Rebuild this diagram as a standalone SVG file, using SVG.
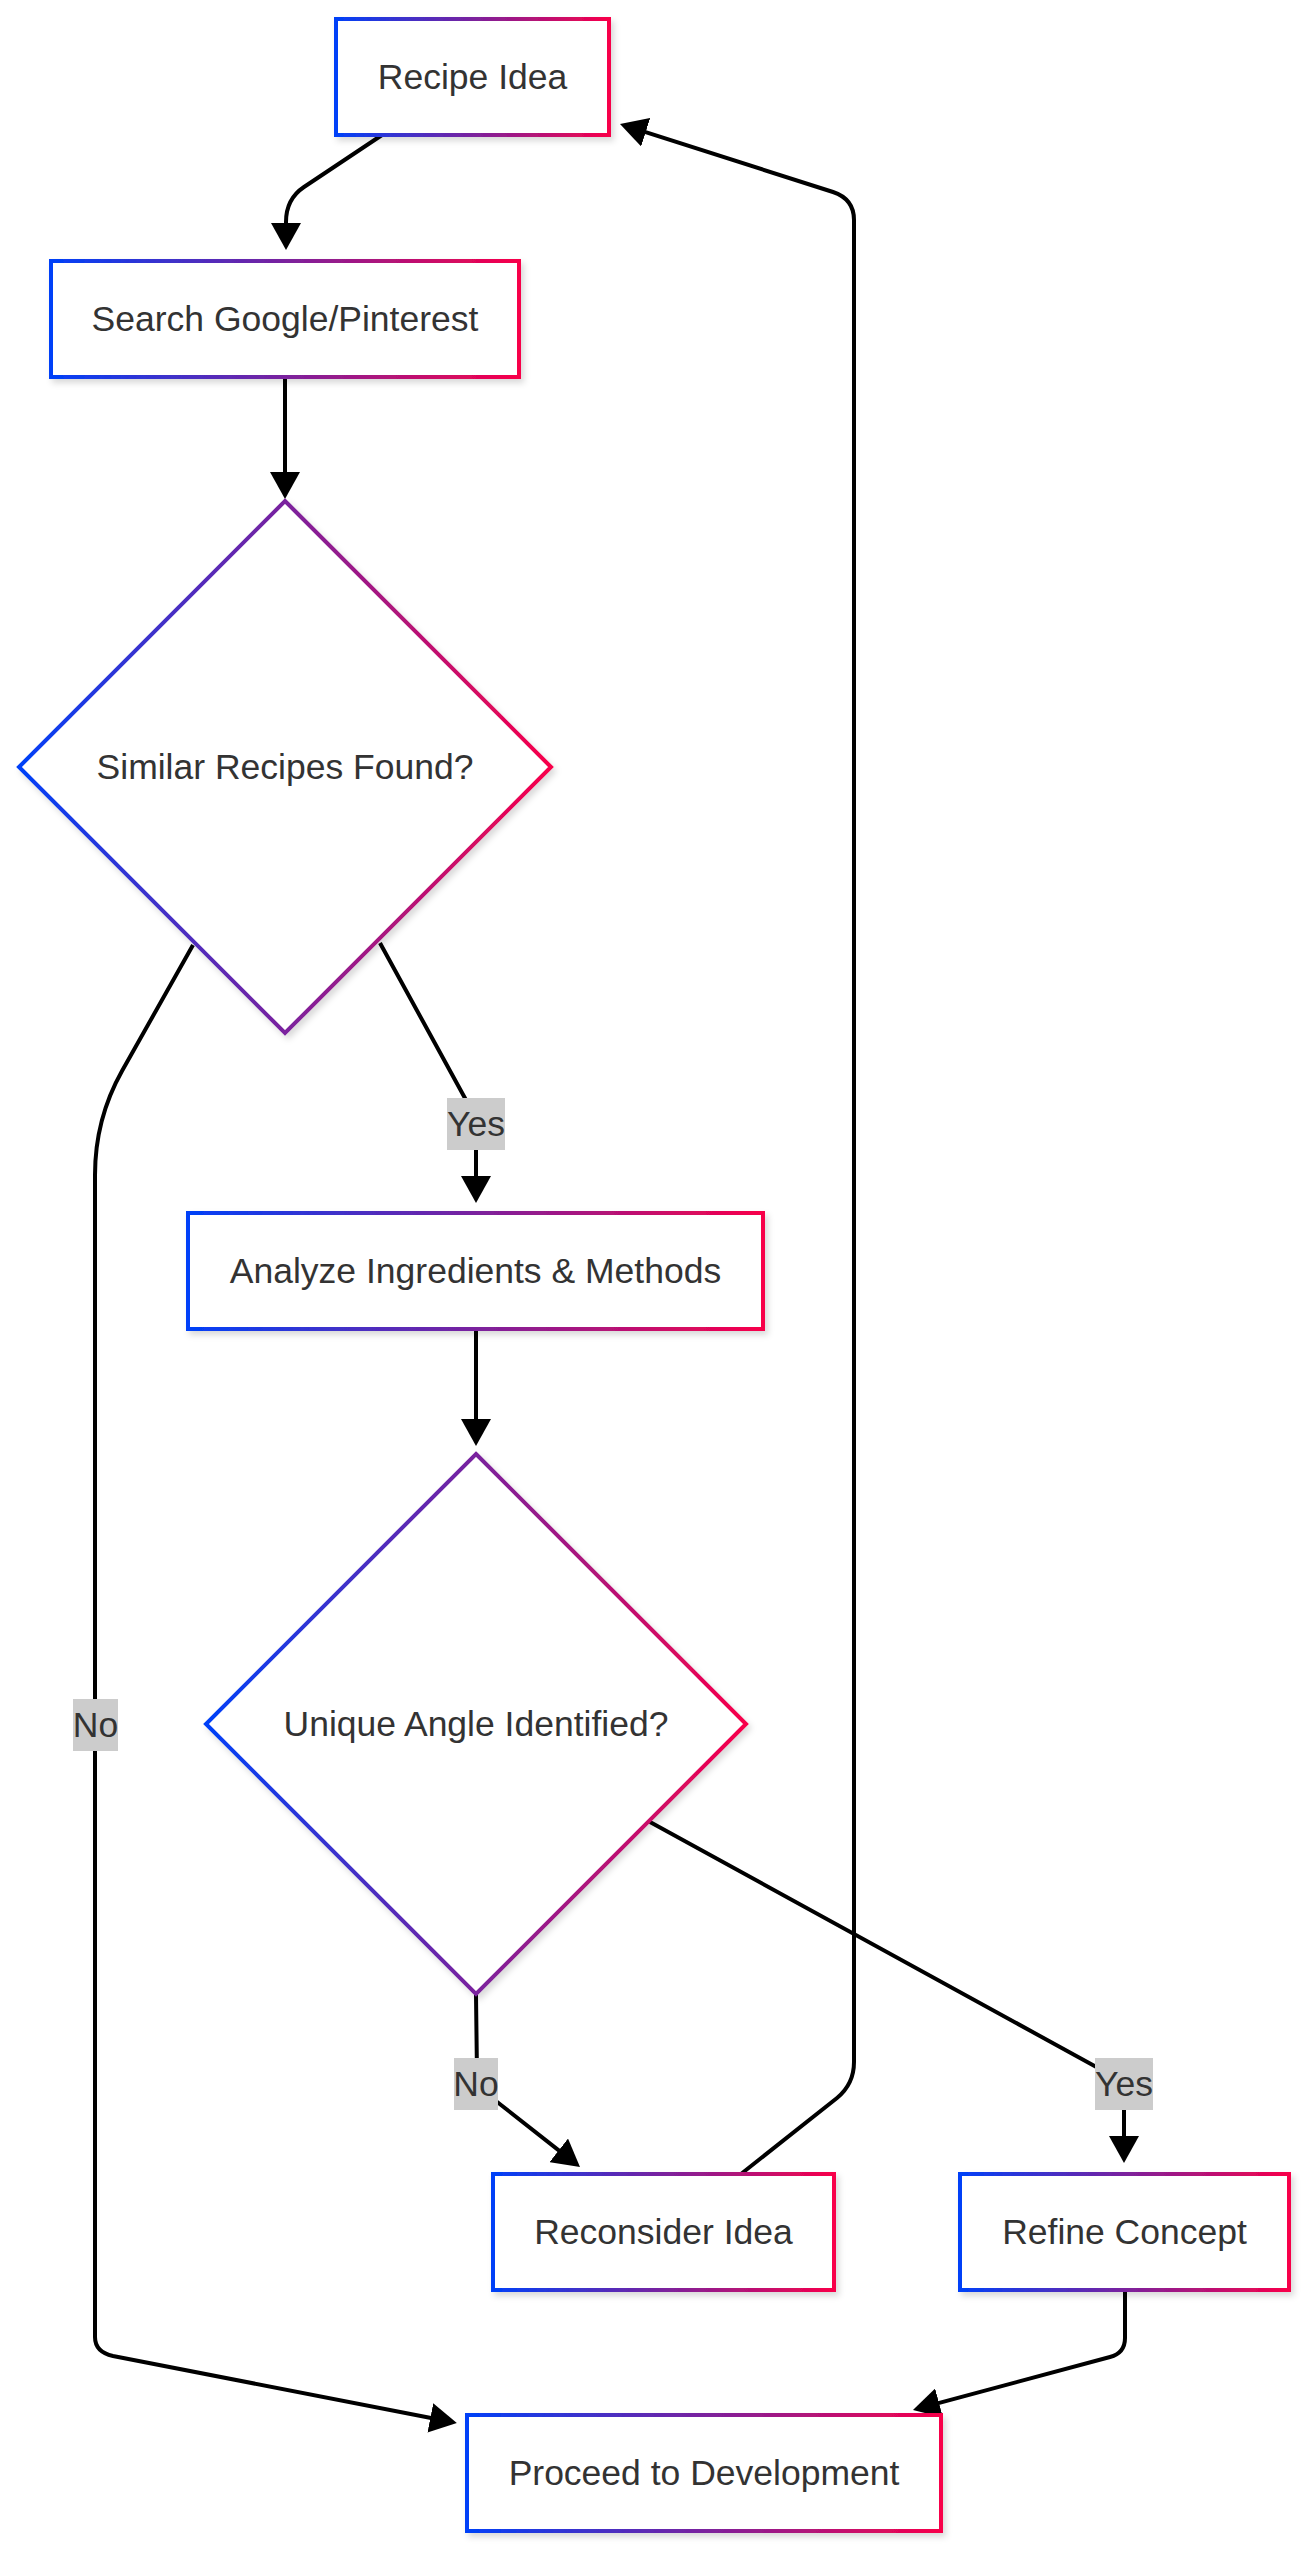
<svg xmlns="http://www.w3.org/2000/svg" width="1313" height="2560" viewBox="0 0 1313 2560">
<style>
.node rect,.node polygon{fill:#fff;stroke:url(#g);stroke-width:4;filter:url(#sh)}
.node text,.lbl text{font-family:"Liberation Sans",Arial,sans-serif;font-size:35.5px;fill:#333;text-anchor:middle;dominant-baseline:central}
.edge{fill:none;stroke:#000;stroke-width:4;marker-end:url(#arr)}
.lbl rect{fill:#cccccc}
</style>
<defs>
<linearGradient id="g" x1="0" y1="0" x2="1" y2="0" gradientUnits="objectBoundingBox">
<stop offset="0" stop-color="#0040f8"/>
<stop offset="0.5" stop-color="#7a229e"/>
<stop offset="1" stop-color="#f8004a"/>
</linearGradient>
<filter id="sh" x="-10%" y="-10%" width="120%" height="130%">
<feDropShadow dx="3" dy="4" stdDeviation="3" flood-color="#000" flood-opacity="0.15"/>
</filter>
<marker id="arr" markerUnits="userSpaceOnUse" markerWidth="28" markerHeight="30" refX="19" refY="15" orient="auto" viewBox="0 0 28 30">
<path d="M0,0 L27,15 L0,30 z" fill="#000"/>
</marker>
</defs>
<rect width="1313" height="2560" fill="#fff"/>
<g id="connectors">
<path class="edge" d="M382,135 L304,187 Q286,199 286,222 L286,242"/>
<path class="edge" d="M285,377 L285,491"/>
<path class="edge" d="M380,943 L466,1100 Q476,1118 476,1135 L476,1195"/>
<path class="edge" d="M193,945 L122,1071 Q95,1119 95,1175 L95,2337 Q95,2352 113,2356 L449,2421.5"/>
<path class="edge" d="M476,1329 L476,1438"/>
<path class="edge" d="M476,1995 L477,2075 Q477,2087 487,2094 L573.7,2162.1"/>
<path class="edge" d="M650,1822 L1100,2069 Q1124,2082 1124,2100 L1124,2155"/>
<path class="edge" d="M741,2174 L837,2098 Q854,2084 854,2062 L854,220 Q854,199 833,192 L627.6,126.4"/>
<path class="edge" d="M1125,2290 L1125,2338 Q1125,2353 1110,2357 L920.7,2407.9"/>
</g>
<g id="edge-labels">
<g class="lbl"><rect x="447" y="1098" width="58" height="52"/><text x="476" y="1124">Yes</text></g>
<g class="lbl"><rect x="73" y="1699" width="45" height="52"/><text x="95.5" y="1725">No</text></g>
<g class="lbl"><rect x="454" y="2058" width="44" height="52"/><text x="476" y="2084">No</text></g>
<g class="lbl"><rect x="1095" y="2058" width="58" height="52"/><text x="1124" y="2084">Yes</text></g>
</g>
<g id="recipe-idea" class="node"><rect x="336" y="19" width="273" height="116"/><text x="472.5" y="77">Recipe Idea</text></g>
<g id="search" class="node"><rect x="51" y="261" width="468" height="116"/><text x="285" y="319">Search Google/Pinterest</text></g>
<g id="similar-found" class="node"><polygon points="285,501 551,767 285,1033 19,767"/><text x="285" y="767">Similar Recipes Found?</text></g>
<g id="analyze" class="node"><rect x="188" y="1213" width="575" height="116"/><text x="475.5" y="1271">Analyze Ingredients &amp; Methods</text></g>
<g id="unique-angle" class="node"><polygon points="476,1454 746,1724 476,1994 206,1724"/><text x="476" y="1724">Unique Angle Identified?</text></g>
<g id="reconsider" class="node"><rect x="493" y="2174" width="341" height="116"/><text x="663.5" y="2232">Reconsider Idea</text></g>
<g id="refine" class="node"><rect x="960" y="2174" width="329" height="116"/><text x="1124.5" y="2232">Refine Concept</text></g>
<g id="proceed" class="node"><rect x="467" y="2415" width="474" height="116"/><text x="704" y="2473">Proceed to Development</text></g>
</svg>
